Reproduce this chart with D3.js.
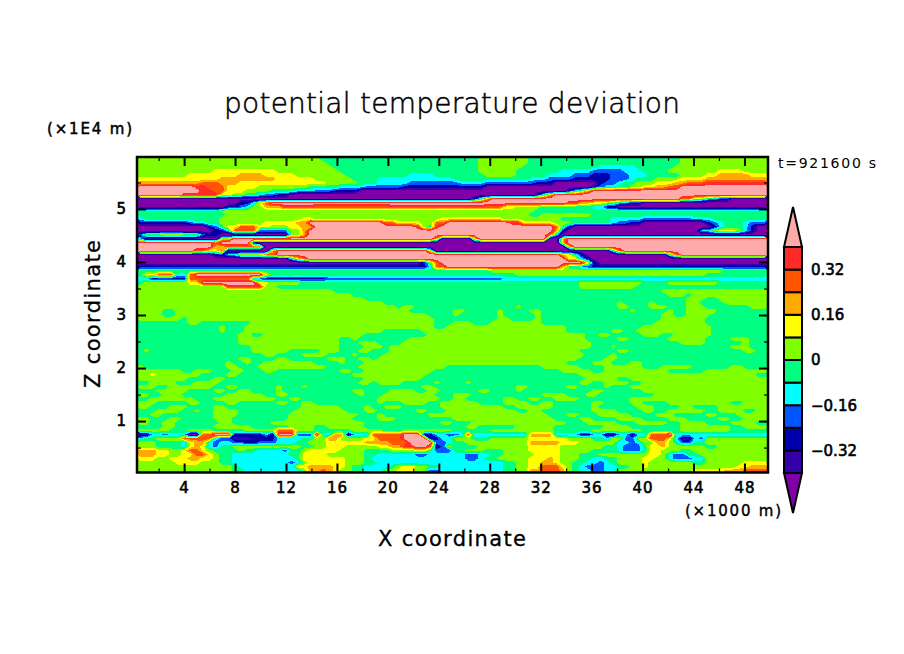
<!DOCTYPE html>
<html>
<head>
<meta charset="utf-8">
<title>potential temperature deviation</title>
<script src="https://cdn.jsdelivr.net/npm/d3@7"></script>
<style>
  html, body { margin: 0; background: #fff; }
  text { font-family: "DejaVu Sans", sans-serif; fill: #000; }
</style>
</head>
<body>
<svg id="chart" width="904" height="654"></svg>
<script>
const levels = [-0.40, -0.32, -0.24, -0.16, -0.08, 0, 0.08, 0.16, 0.24, 0.32, 0.40]
const bandColors = ['#7f00a8', '#3300aa', '#0000aa', '#0055ff', '#00ffff', '#00ff80', '#80ff00', '#ffff00', '#ffaa00', '#ff5500', '#ff2a2a', '#ffaaaa']
const bandValues = { a: -0.44, b: -0.36, c: -0.28, d: -0.20, e: -0.12, f: -0.04, g: 0.04, h: 0.12, i: 0.20, j: 0.28, k: 0.36, l: 0.44 }
const legendTicks = [0.32, 0.16, 0, -0.16, -0.32]
const legendLabels = ['0.32', '0.16', '0', '\u22120.16', '\u22120.32']
const xMajor = [4, 8, 12, 16, 20, 24, 28, 32, 36, 40, 44, 48]
const xMinor = [2, 6, 10, 14, 18, 22, 26, 30, 34, 38, 42, 46]
const zMajor = [1, 2, 3, 4, 5]
const zMinor = [0.5, 1.5, 2.5, 3.5, 4.5, 5.5]

// top row first, each run is band letter + column where it stops (100 columns across the frame)
const bandRuns = [
  'g29 f54 g62 f86 g100',
  'g30 f54 g62 f86 g100',
  'g31 f54 g61 f73 e79 f85 g100',
  'g12 h22 g32 f54 g60 f67 e72 d77 e80 f84 g92 h96 g100',
  'g8 h16 i20 h25 g33 f43 e47 f55 g60 f65 e69 d72 c75 d78 e81 f86 g90 h92 i97 h100',
  'h13 i22 h28 g34 f38 e50 f62 e65 d69 c75 d78 e79 f82 g86 h90 i100',
  'i10 j13 i16 h30 g35 f38 e43 d51 e55 d63 c66 a73 c74 d76 e77 f79 g82 h85 i87 j90 k100',
  'l9 k11 j14 h19 g27 f32 e36 d42 c55 a72 c73 d74 e76 f78 g80 h82 i84 j86 l100',
  'l10 k12 j14 h17 g21 f25 e28 d31 c35 a68 c69 e70 g71 i72 l100',
  'l7 k13 h15 g17 f19 e20 d22 c24 a63 c64 f65 i66 l100',
  'a53 c54 f55 i56 l86 j88 g90 e92 c94 a100',
  'a16 c18 e19 h20 j21 l68 k70 i72 h74 g75 f76 e77 d78 c80 a100',
  'a14 c16 d17 e18 g20 i23 k28 j40 k55 j58 h60 g64 f72 e74 c76 a100',
  'f13 g63 f100',
  'f14 g62 f64 g72 f100',
  'e1 f13 g26 h28 g48 h58 g67 f75 e80 d88 e91 f100',
  'c8 d9 e11 f13 g20 h25 i27 l39 j41 h45 g47 j49 l59 k61 h66 g69 f75 e76 d78 c80 a90 c91 d92 e93 f96 e97 d100',
  'a11 c12 d13 f14 h16 j19 h21 g24 h26 i28 l44 k45 g46 f47 k48 l66 j67 f68 c69 a91 c92 e93 f96 e97 c98 a100',
  'a12 c14 e15 j19 d24 g26 i27 l66 i67 c68 a89 e91 g92 h95 g96 e97 c98 a100',
  'd1 g4 h7 g10 d11 c13 a24 g26 i27 l65 j66 e67 a100',
  'e1 a13 h15 l47 i48 a53 h54 l65 a67 i68 l100',
  'l12 j13 l18 c19 a67 i68 l100',
  'l12 i14 j20 a68 h69 l100',
  'l9 j11 h13 j14 a21 i22 l46 h47 a75 f76 j77 l100',
  'a12 c14 e16 h20 j22 l67 i68 h69 f70 c71 a84 f85 j86 l100',
  'a24 e25 h26 j27 l68 h70 e71 c72 a100',
  'a45 c46 f47 j48 l71 h72 c73 a100',
  'c46 e47 j49 l67 i68 f70 d72 c100',
  'f56 g93 f100',
  'f1 h3 j6 e8 j9 l20 h21 f60 g90 f100',
  'e2 c8 j18 d20 c30 d58 e100',
  'f1 g8 h10 l19 h21 g26 f70 g80 f84 g92 f100',
  'g14 k20 g22 f70 g79 f100',
  'g31 f83 g100',
  'g34 f84 g87 f88 g100',
  'g36 f87 g90 f92 g100',
  'g39 f76 g77 f81 g82 f87 g89 f93 g100',
  'g41 f42 g44 f60 g61 f76 g78 f81 g84 f87 g90 f97 g100',
  'g4 f6 g43 f50 g52 f57 g58 f62 g64 f78 g79 f84 g85 f87 g92 f100',
  'g4 f6 g46 f50 g51 f57 g58 f63 g64 f83 g85 f87 g91 f100',
  'g7 f8 g47 f57 g59 f63 g64 f83 g90 f100',
  'f8 g10 f18 g47 f50 g53 f56 g64 f82 g90 f100',
  'f13 g14 f17 g47 f49 g68 f80 g91 f100',
  'f13 g14 f17 g39 f45 g68 f75 g77 f79 g91 f100',
  'f16 g18 f20 g36 f46 g71 f73 g75 f80 g83 f85 g91 f100',
  'f16 g32 f34 g35 f43 g71 f76 g78 f84 g90 f94 g97 f100',
  'f16 g32 f35 g38 f42 g72 f86 g90 f96 g97 f100',
  'f18 g32 f36 g39 f40 g72 f75 g76 f94 g97 f100',
  'f1 g2 f18 g24 f29 g32 f35 g37 f40 g70 f76 g78 f96 g98 f100',
  'f20 g22 f26 g30 f34 g35 f39 g71 f75 g76 f100',
  'f16 g18 f22 g24 f30 g33 f35 g37 f38 g70 f74 g76 f100',
  'f14 g15 f17 g18 f20 g28 f32 g33 f36 g68 f72 g75 f78 g80 f100',
  'g1 f14 g16 f19 g30 f35 g49 f64 g70 f74 g80 f83 g88 f94 g96 f100',
  'g7 f9 g12 f15 g17 f20 g22 f32 g34 f36 g47 f67 g72 f74 g84 f90 g100',
  'g2 h3 g10 f14 g16 f34 g46 f70 g98 f100',
  'g8 f12 g14 f36 g45 f71 g76 f78 g100',
  'f2 g6 f9 g13 f35 g37 f38 g42 f47 g48 f52 g53 f70 g72 f74 g78 f80 g100',
  'g3 f5 g12 f14 g16 f22 g23 f26 g27 f45 g47 f60 g62 f68 g70 f74 g75 f78 g100',
  'f3 g8 f12 g14 f16 g18 f22 g23 f34 g36 f40 g44 f46 g48 f54 g56 f60 g61 f72 g74 f80 g100',
  'g2 f4 g7 f14 g20 f22 g24 f35 g36 f39 g47 f50 g53 f64 g68 f71 g73 f82 g100',
  'f2 g9 f12 g22 f24 g26 f38 g48 f50 g52 f58 g60 f62 g64 f66 g70 f78 g100',
  'g3 f8 g10 f14 g16 f22 g24 f26 g28 f38 g39 f42 g46 f48 g54 f58 g62 f64 g66 f72 g74 f78 g80 f84 g94 f96 g100',
  'g2 f5 g8 f12 g14 f26 g32 f36 g37 f39 g42 f48 g58 f60 g66 f72 g73 f79 g82 f86 g88 f92 g100',
  'f3 g7 f9 g10 f12 g16 f25 g33 f36 g38 f44 g46 f49 g60 f62 g64 f72 g76 f80 g82 f84 g90 f92 g96 f98 g100',
  'f2 g4 f12 g16 f24 g35 f38 g39 f46 g65 f68 g70 f73 g78 f82 g85 f90 g92 f95 g100',
  'g2 f5 g7 f12 g15 f24 g34 f38 g41 f50 g66 f70 g72 f76 g80 f84 g87 f92 g94 f96 g100',
  'g2 f4 g6 f13 g15 f21 g36 f48 g50 f53 g68 f71 g76 f79 g84 f86 g90 f94 g98 f100',
  'f4 g6 f12 g18 f24 g28 f30 g36 f52 g54 f60 g66 f74 g78 f86 g94 f96 g100',
  'g5 f8 g12 f17 g22 j25 g28 f34 g39 f42 g50 f56 g66 f72 g80 f86 g94 f100',
  'b2 e4 d5 e8 a10 j12 l15 c20 e21 b22 l25 d28 l29 e31 i33 b34 e37 j42 l45 c47 e49 d51 e52 j53 e62 i66 e70 c72 e74 b76 e78 b79 e81 j84 l85 e100',
  'e1 f3 g7 j12 e13 d15 b18 c22 e26 f28 g30 i32 g36 h38 j42 l46 c48 e50 g53 f56 g62 h68 g72 f74 e75 g77 d79 g81 j84 h85 e86 b88 e89 d90 g100',
  'g3 f7 e8 h9 i11 e12 d13 e15 d17 c19 d22 e25 f27 g30 h36 i40 j43 l47 d49 e50 f52 g62 i67 h70 g76 e78 d79 e80 g82 i84 g85 f86 d88 f90 g100',
  'g3 f7 e8 h9 i10 h11 e12 d13 f15 g26 f28 g30 h33 g38 h40 i42 k44 l46 j47 b48 d49 g50 f54 g62 h67 g74 f76 e77 d80 f81 h83 i84 g90 f92 g100',
  'i3 h5 g7 h8 j10 h11 g12 f16 g17 f19 e23 d24 f26 g27 h32 g36 f40 g44 h46 f47 d50 f52 g55 f58 g62 h67 g72 f76 e77 d80 f81 h83 g86 f88 g100',
  'i3 h5 g7 h9 j11 h12 g13 f15 e24 f26 h30 g36 f38 e44 d46 e52 d54 e56 f58 g63 h67 g70 f73 g81 h83 g84 e85 d87 f89 g100',
  'h3 g5 h8 i10 h12 g13 f15 e25 f26 h33 g36 f37 e52 d54 e55 f57 g62 h65 i66 h67 g70 f72 e74 f76 g80 h82 g84 e85 d88 e90 g100',
  'g6 h10 g13 f15 e24 d25 e26 g27 h33 g36 f38 e58 f60 g62 h64 i66 h67 g69 f71 e73 d74 e75 f76 g80 h81 g88 f90 g96 h100',
  'g15 f16 e25 h27 i31 h33 g34 f36 e40 f41 g42 h44 g46 f48 e58 f60 g62 h64 j67 h68 g69 f70 e71 d74 e76 f78 g80 h81 g95 h97 i100',
  'g15 f17 e26 g27 i29 j30 i31 h32 g34 f36 e39 g41 h44 g46 d48 e58 f60 g62 i64 j67 i68 g69 f70 e72 d74 e76 g88 h93 i96 j100'
]

const nx = 100
const nz = bandRuns.length
const plot = { left: 137, right: 768, top: 157, bottom: 472.5 }
const bar = { left: 784, right: 802, top: 247, bottom: 473, tip: 40 }

// the frame sits a little inside the round axis numbers
const xDomain = [0.3, 49.85]
const zDomain = [0.03, 5.98]
const xScale = d3.scaleLinear().domain(xDomain).range([plot.left, plot.right])
const zScale = d3.scaleLinear().domain(zDomain).range([plot.bottom, plot.top])
const barScale = d3.scaleLinear().domain([-0.4, 0.4]).range([bar.bottom, bar.top])

// expand the runs into a flat grid of values, top row first
const grid = []
bandRuns.forEach(row => {
  let col = 0
  row.split(' ').forEach(run => {
    const stop = +run.slice(1)
    for (; col < stop; col++) grid.push(bandValues[run[0]])
  })
})

const svg = d3.select('#chart')

svg.append('clipPath').attr('id', 'plot-clip').append('rect')
  .attr('x', plot.left).attr('y', plot.top)
  .attr('width', plot.right - plot.left).attr('height', plot.bottom - plot.top)

const field = svg.append('g').attr('clip-path', 'url(#plot-clip)').attr('shape-rendering', 'crispEdges')

field.append('rect')
  .attr('x', plot.left).attr('y', plot.top)
  .attr('width', plot.right - plot.left).attr('height', plot.bottom - plot.top)
  .attr('fill', bandColors[0])

const toPlot = d3.geoTransform({
  point(px, py) {
    this.stream.point(
      xScale(xDomain[0] + px * (xDomain[1] - xDomain[0]) / nx),
      zScale(zDomain[1] - py * (zDomain[1] - zDomain[0]) / nz)
    )
  }
})

const bands = d3.contours().size([nx, nz]).thresholds(levels)(grid)

field.selectAll('path')
  .data(bands)
  .join('path')
  .attr('d', d3.geoPath(toPlot))
  .attr('fill', (d, i) => bandColors[i + 1])

// axes, ticks point inwards on all four sides
const drawAxis = (axis, x, y, size, labels) => {
  axis.tickSize(size)
  if (!labels) axis.tickFormat('')
  const g = svg.append('g').attr('transform', `translate(${x}, ${y})`).call(axis)
  g.select('.domain').remove()
  g.selectAll('line').attr('stroke', '#000').attr('stroke-width', size < -5 ? 2 : 1.2)
  return g
}

const styleTick = sel => sel
  .attr('font-size', 15)
  .attr('stroke', '#000')
  .attr('stroke-width', 0.6)

const xLabels = drawAxis(d3.axisBottom(xScale).tickValues(xMajor).tickPadding(10).tickFormat(d3.format('d')), 0, plot.bottom, -9, true)
xLabels.selectAll('text').call(styleTick).attr('letter-spacing', 1)
const zLabels = drawAxis(d3.axisLeft(zScale).tickValues(zMajor).tickPadding(11).tickFormat(d3.format('d')), plot.left, 0, -9, true)
zLabels.selectAll('text').call(styleTick)

drawAxis(d3.axisBottom(xScale).tickValues(xMinor), 0, plot.bottom, -4)
drawAxis(d3.axisLeft(zScale).tickValues(zMinor), plot.left, 0, -4)
drawAxis(d3.axisTop(xScale).tickValues(xMajor), 0, plot.top, -9)
drawAxis(d3.axisTop(xScale).tickValues(xMinor), 0, plot.top, -4)
drawAxis(d3.axisRight(zScale).tickValues(zMajor), plot.right, 0, -9)
drawAxis(d3.axisRight(zScale).tickValues(zMinor), plot.right, 0, -4)

svg.append('rect')
  .attr('x', plot.left).attr('y', plot.top)
  .attr('width', plot.right - plot.left).attr('height', plot.bottom - plot.top)
  .attr('fill', 'none').attr('stroke', '#000').attr('stroke-width', 2.5)

// colour bar
const legend = svg.append('g').attr('stroke', '#000').attr('stroke-width', 2)
const barMid = (bar.left + bar.right) / 2

legend.selectAll('rect')
  .data(levels.slice(0, -1))
  .join('rect')
  .attr('x', bar.left)
  .attr('width', bar.right - bar.left)
  .attr('y', (d, i) => barScale(levels[i + 1]))
  .attr('height', (d, i) => barScale(d) - barScale(levels[i + 1]))
  .attr('fill', (d, i) => bandColors[i + 1])

legend.append('path')
  .attr('d', d3.line()([[bar.left, bar.top], [barMid, bar.top - bar.tip], [bar.right, bar.top]]) + 'Z')
  .attr('fill', bandColors[11])

legend.append('path')
  .attr('d', d3.line()([[bar.left, bar.bottom], [barMid, bar.bottom + bar.tip], [bar.right, bar.bottom]]) + 'Z')
  .attr('fill', bandColors[0])

svg.selectAll('.legend-label')
  .data(legendTicks)
  .join('text')
  .attr('class', 'legend-label')
  .attr('x', 811)
  .attr('y', d => barScale(d))
  .attr('dy', '0.36em')
  .attr('font-size', 15)
  .attr('stroke', '#000')
  .attr('stroke-width', 0.6)
  .text((d, i) => legendLabels[i])

const label = (txt, x, y, size, width, opts = {}) => svg.append('text')
  .attr('x', x).attr('y', y)
  .attr('font-size', size)
  .attr('font-weight', opts.weight || 'normal')
  .attr('stroke', '#000')
  .attr('stroke-width', opts.stroke || 0)
  .attr('textLength', width)
  .attr('lengthAdjust', 'spacing')
  .attr('transform', opts.rotate ? `rotate(-90, ${x}, ${y})` : null)
  .text(txt)

label('potential temperature deviation', 224, 113, 28, 456, { weight: 200, stroke: 0.5 })
label('X coordinate', 378, 546, 21, 148, { stroke: 0.3 })
label('Z coordinate', 100, 388, 21, 148, { rotate: true, stroke: 0.3 })
label('(\u00d71E4 m)', 47, 134, 15, 85, { stroke: 0.5 })
label('(\u00d71000 m)', 685, 516, 15, 96, { stroke: 0.4 })
label('t=921600 s', 778, 168, 14, 98)
</script>
</body>
</html>
